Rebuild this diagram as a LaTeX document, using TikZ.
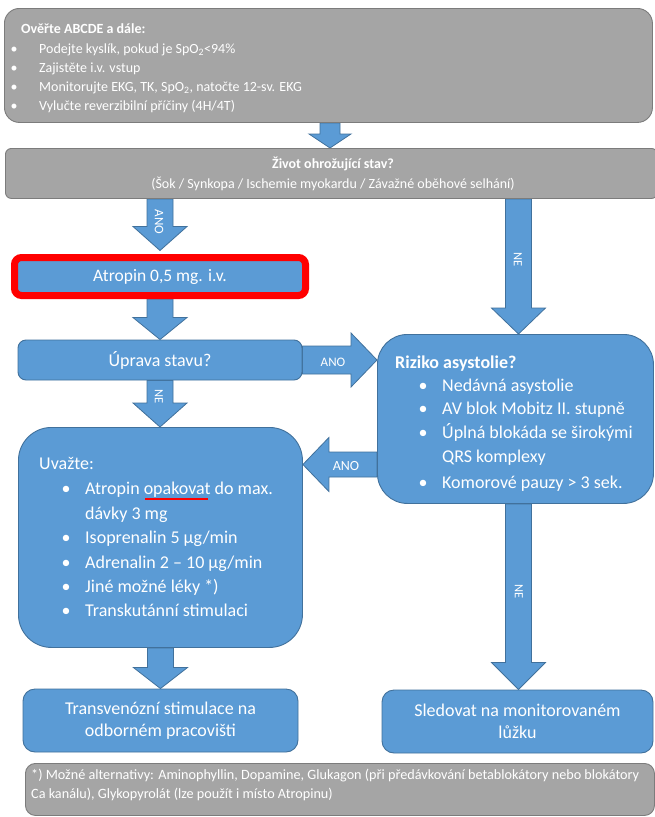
\documentclass[tikz,border=0pt]{standalone}
\usepackage{fontspec}
\setmainfont{Carlito}
\usetikzlibrary{calc}
\definecolor{boxblue}{HTML}{5B9BD5}
\definecolor{boxblueedge}{HTML}{41719C}
\definecolor{boxgray}{HTML}{A5A5A5}
\definecolor{boxgrayedge}{HTML}{7C7C7C}
\definecolor{alertred}{HTML}{FF0000}
\pgfdeclarelayer{bg}
\pgfsetlayers{bg,main}
\tikzset{
  graybox/.style={draw=boxgrayedge, fill=boxgray, line width=0.9pt, inner sep=0pt},
  bluebox/.style={draw=boxblueedge, fill=boxblue, line width=0.9pt, inner sep=0pt, text=white},
  blk/.style={draw=boxblueedge, fill=boxblue, line width=0.8pt, line join=miter},
  wtext/.style={text=white, inner sep=0pt},
  fsmall/.style={font=\fontsize{14}{16}\selectfont},
  fsmallb/.style={font=\bfseries\fontsize{14}{16}\selectfont},
  fbig/.style={font=\fontsize{18}{22}\selectfont},
  fbigb/.style={font=\bfseries\fontsize{18}{22}\selectfont},
  lbl/.style={text=white, inner sep=0pt, font=\fontsize{13}{14}\selectfont},
  lblne/.style={text=white, inner sep=0pt, font=\fontsize{12.5}{14}\selectfont},
}
\newcommand\blockdown[6]{%
  \draw[blk] let \p1=(#1), \p2=(#2), \p3=(#3) in
  (\x1-#4pt,\y2) -- (\x1+#4pt,\y2) -- (\x1+#4pt,\y3+#6pt) -- (\x1+#5pt,\y3+#6pt)
  -- (\x1,\y3) -- (\x1-#5pt,\y3+#6pt) -- (\x1-#4pt,\y3+#6pt) -- cycle;}
\newcommand\blockright[6]{%
  \draw[blk] let \p1=(#1), \p2=(#2), \p3=(#3) in
  (\x2,\y1+#4pt) -- (\x3-#6pt,\y1+#4pt) -- (\x3-#6pt,\y1+#5pt) -- (\x3,\y1)
  -- (\x3-#6pt,\y1-#5pt) -- (\x3-#6pt,\y1-#4pt) -- (\x2,\y1-#4pt) -- cycle;}
\newcommand\blockleft[6]{%
  \draw[blk] let \p1=(#1), \p2=(#2), \p3=(#3) in
  (\x2,\y1+#4pt) -- (\x3+#6pt,\y1+#4pt) -- (\x3+#6pt,\y1+#5pt) -- (\x3,\y1)
  -- (\x3+#6pt,\y1-#5pt) -- (\x3+#6pt,\y1-#4pt) -- (\x2,\y1-#4pt) -- cycle;}
\begin{document}
\begin{tikzpicture}[x=1pt,y=-1pt]
\useasboundingbox (0,0) rectangle (654,817);
\begin{pgfonlayer}{bg}
\fill[white] (0,0) rectangle (654,817);
\end{pgfonlayer}

% ---------- boxes ----------
\node[graybox, rounded corners=15, minimum width=648, minimum height=114, anchor=north west] (check) at (4,8) {};
\node[graybox, rounded corners=6, minimum width=652, minimum height=50, anchor=north west] (life) at (5,148) {};
\node[draw=alertred, line width=7pt, fill=boxblue, rounded corners=7, minimum width=291, minimum height=38, inner sep=0pt, text=white, font=\fontsize{17.5}{19}\selectfont] (atro) at (160,276.5) {Atropin 0,5 mg. i.v.};
\node[bluebox, rounded corners=8, minimum width=284, minimum height=40, font=\fontsize{18}{20}\selectfont] (upr) at (160,360) {Úprava stavu?};
\node[bluebox, rounded corners=33, minimum width=284, minimum height=220, anchor=north west] (uva) at (18,427) {};
\node[bluebox, rounded corners=30, minimum width=276, minimum height=169, anchor=north west] (riz) at (377,334) {};
\node[bluebox, rounded corners=12, minimum width=275, minimum height=63, fbig, align=center] (trans) at (160.5,720.5) {Transvenózní stimulace na\\odborném pracovišti};
\node[bluebox, rounded corners=12, minimum width=271, minimum height=63, fbig, align=center] (sled) at (517.5,721.5) {Sledovat na monitorovaném\\lůžku};
\node[graybox, rounded corners=10, minimum width=629, minimum height=52, anchor=north west] (foot) at (25,763) {};

% ---------- helper coordinates ----------
\coordinate (cx) at (330,0);
\coordinate (nex) at (518.5,0);
\coordinate (anoy) at (0,464.5);

% ---------- block arrows (connectors) ----------
\begin{pgfonlayer}{bg}
\blockdown{cx}{check.south}{life.north}{10}{21}{14}
\blockdown{atro.north}{life.south}{$(atro.north)+(0,-3.5)$}{13}{27}{24}
\blockdown{nex}{life.south}{riz.north}{13}{27}{26}
\blockdown{atro.south}{atro.south}{upr.north}{13}{27}{22}
\blockright{upr.east}{upr.east}{riz.west}{14}{27}{26}
\blockdown{upr.south}{upr.south}{uva.north}{13}{27}{24}
\blockleft{anoy}{riz.west}{uva.east}{12.5}{27}{26}
\blockdown{nex}{riz.south}{sled.north}{13}{27}{27}
\blockdown{uva.south}{uva.south}{trans.north}{13}{27}{21}
\end{pgfonlayer}

% ---------- arrow labels ----------
\node[lbl, rotate=-90] (lano1) at (159,222) {ANO};
\node[lblne, rotate=-90] (lne1) at (518,260) {NE};
\node[lbl] (lano2) at (333,362) {ANO};
\node[lblne, rotate=-90] (lne2) at (159,397) {NE};
\node[lbl, font=\fontsize{14}{15}\selectfont] (lano3) at (346,466) {ANO};
\node[lblne, rotate=-90] (lne3) at (519,592) {NE};

% ---------- top box text ----------
\node[wtext, fsmallb, anchor=base west] (c0) at (21,33) {Ověřte ABCDE a dále:};
\node[wtext, fsmall, anchor=base] (cb1) at (14,53) {•};
\node[wtext, fsmall, anchor=base west] (c1) at (39,53) {Podejte kyslík, pokud je SpO\textsubscript{2}<94\%};
\node[wtext, fsmall, anchor=base] (cb2) at (14,72) {•};
\node[wtext, fsmall, anchor=base west] (c2) at (39,72) {Zajistěte i.v. vstup};
\node[wtext, fsmall, anchor=base] (cb3) at (14,91) {•};
\node[wtext, fsmall, anchor=base west] (c3) at (39,91) {Monitorujte EKG, TK, SpO\textsubscript{2}, natočte 12-sv. EKG};
\node[wtext, fsmall, anchor=base] (cb4) at (14,110) {•};
\node[wtext, fsmall, anchor=base west] (c4) at (39,110) {Vylučte reverzibilní příčiny (4H/4T)};

% ---------- second box text ----------
\node[wtext, fsmallb, anchor=base] (l1) at (333,168) {Život ohrožující stav?};
\node[wtext, fsmall, anchor=base] (l2) at (333,188) {(Šok / Synkopa / Ischemie myokardu / Závažné oběhové selhání)};

% ---------- Uvažte text ----------
\node[wtext, fbig, anchor=base west] (u0) at (39,469) {Uvažte:};
\node[wtext, fbig, anchor=base] (ub1) at (66,494) {•};
\node[wtext, fbig, anchor=base west] (u1) at (85,494) {Atropin opakovat do max.};
\node[wtext, fbig, anchor=base west] (u1b) at (85,519) {dávky 3 mg};
\node[wtext, fbig, anchor=base] (ub2) at (66,543) {•};
\node[wtext, fbig, anchor=base west] (u2) at (85,543) {Isoprenalin 5 µg/min};
\node[wtext, fbig, anchor=base] (ub3) at (66,568) {•};
\node[wtext, fbig, anchor=base west] (u3) at (85,568) {Adrenalin 2 – 10 µg/min};
\node[wtext, fbig, anchor=base] (ub4) at (66,592) {•};
\node[wtext, fbig, anchor=base west] (u4) at (85,592) {Jiné možné léky *)};
\node[wtext, fbig, anchor=base] (ub5) at (66,616) {•};
\node[wtext, fbig, anchor=base west] (u5) at (85,616) {Transkutánní stimulaci};
\draw[alertred, line width=2.5pt] (145,499) -- (208,499);

% ---------- Riziko text ----------
\node[wtext, fbigb, anchor=base west] (r0) at (395,368) {Riziko asystolie?};
\node[wtext, fbig, anchor=base] (rb1) at (423,391) {•};
\node[wtext, fbig, anchor=base west] (r1) at (442,391) {Nedávná asystolie};
\node[wtext, fbig, anchor=base] (rb2) at (423,414) {•};
\node[wtext, fbig, anchor=base west] (r2) at (442,414) {AV blok Mobitz II. stupně};
\node[wtext, fbig, anchor=base] (rb3) at (423,438) {•};
\node[wtext, fbig, anchor=base west] (r3) at (442,438) {Úplná blokáda se širokými};
\node[wtext, fbig, anchor=base west] (r3b) at (442,462) {QRS komplexy};
\node[wtext, fbig, anchor=base] (rb4) at (423,488) {•};
\node[wtext, fbig, anchor=base west] (r4) at (442,488) {Komorové pauzy > 3 sek.};

% ---------- footnote ----------
\node[wtext, anchor=base west, font=\fontsize{14.2}{16}\selectfont] (f1) at (31,779) {*) Možné alternativy: Aminophyllin, Dopamine, Glukagon (při předávkování betablokátory nebo blokátory};
\node[wtext, anchor=base west, font=\fontsize{14.2}{16}\selectfont] (f2) at (31,798) {Ca kanálu), Glykopyrolát (lze použít i místo Atropinu)};
\end{tikzpicture}
\end{document}
